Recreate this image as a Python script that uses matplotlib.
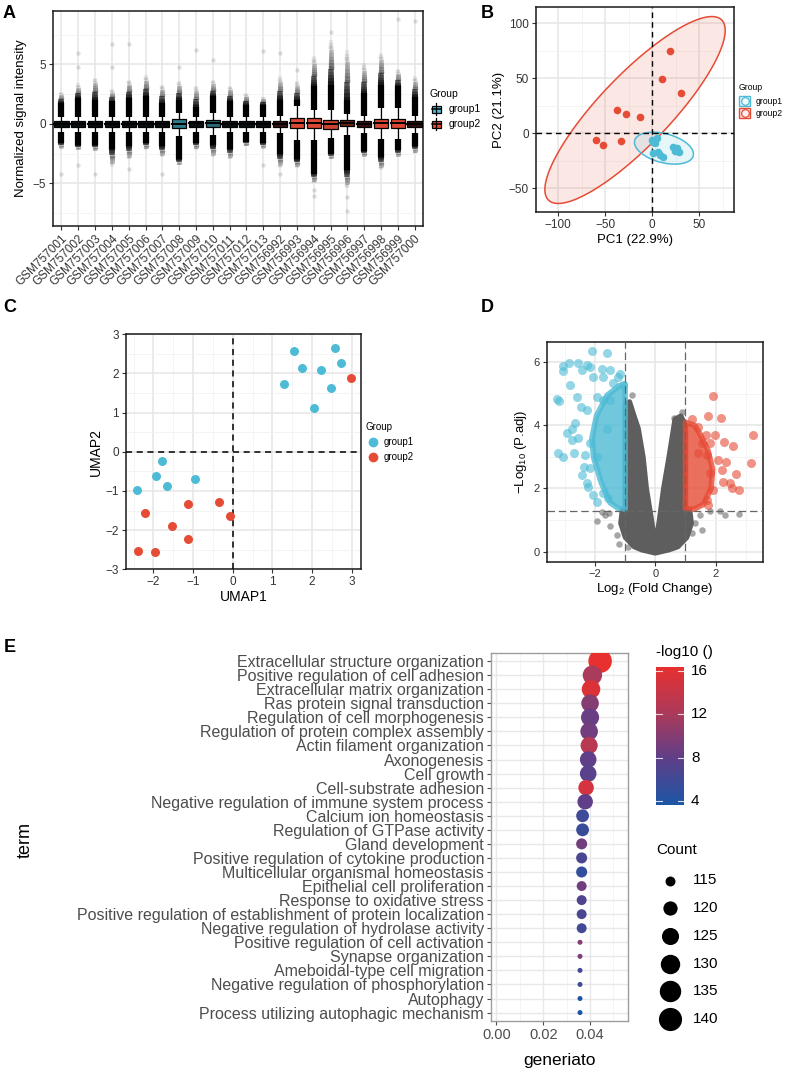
import numpy as np
import matplotlib
matplotlib.use('Agg')
import matplotlib.pyplot as plt
from matplotlib.patches import Rectangle, Polygon
from matplotlib.collections import LineCollection
from matplotlib.colors import LinearSegmentedColormap
from matplotlib.lines import Line2D

plt.rcParams['font.family'] = ['Liberation Sans', 'DejaVu Sans']
plt.rcParams['mathtext.default'] = 'regular'
NARROW = ['Liberation Sans Narrow', 'Liberation Sans', 'DejaVu Sans']

BLUE = '#4DBBD5'
RED = '#E64B35'

# ---------------- data: panel A (boxplots of normalized intensity) ----------------
samples = ['GSM757001', 'GSM757002', 'GSM757003', 'GSM757004', 'GSM757005', 'GSM757006',
           'GSM757007', 'GSM757008', 'GSM757009', 'GSM757010', 'GSM757011', 'GSM757012',
           'GSM757013', 'GSM756992', 'GSM756993', 'GSM756994', 'GSM756995', 'GSM756996',
           'GSM756997', 'GSM756998', 'GSM756999', 'GSM757000']
sample_group = [1] * 13 + [2] * 9
box_q1 = [-0.25, -0.25, -0.25, -0.25, -0.25, -0.25, -0.25, -0.37, -0.25, -0.28, -0.25, -0.25,
          -0.25, -0.28, -0.37, -0.37, -0.42, -0.17, -0.28, -0.37, -0.37, -0.28]
box_q3 = [0.2, 0.2, 0.2, 0.2, 0.2, 0.2, 0.2, 0.39, 0.2, 0.34, 0.2, 0.2,
          0.2, 0.28, 0.48, 0.48, 0.34, 0.34, 0.28, 0.42, 0.42, 0.28]
box_med = [0.0, 0.0, 0.0, 0.0, 0.0, 0.0, 0.0, 0.0, 0.05, 0.05, 0.0, 0.0,
           0.0, 0.0, 0.1, 0.05, -0.05, 0.1, 0.0, 0.05, 0.05, 0.0]
whisk_hi = [0.6, 0.6, 0.6, 0.6, 0.6, 0.6, 0.6, 0.9, 0.6, 0.9, 0.6, 0.6,
            0.6, 0.7, 1.5, 1.2, 1.2, 0.8, 0.7, 1.3, 1.3, 0.7]
whisk_lo = [-0.65, -0.65, -0.65, -0.65, -0.65, -0.65, -0.65, -1.0, -0.65, -0.9, -0.65, -0.65,
            -0.65, -0.8, -1.35, -1.35, -1.2, -0.9, -0.8, -1.3, -1.3, -0.8]
upper_solid = [1.75, 2.17, 2.03, 1.89, 2.17, 2.31, 1.75, 2.03, 1.46, 2.31, 1.89, 1.6,
               1.6, 2.03, 2.0, 3.15, 3.3, 2.0, 2.6, 3.3, 3.15, 2.3]
upper_fade = [2.7, 3.4, 3.9, 2.9, 3.7, 4.1, 3.3, 3.6, 3.2, 3.7, 3.2, 2.6,
              2.3, 4.0, 3.6, 5.7, 7.1, 6.2, 5.1, 6.0, 4.6, 4.0]
lower_solid = [-1.6, -1.8, -1.8, -2.1, -1.9, -1.6, -1.9, -3.0, -1.6, -1.8, -2.1, -1.5,
               -1.6, -2.5, -3.0, -4.2, -2.5, -3.9, -2.3, -2.8, -2.2, -1.9]
lower_fade = [-2.1, -2.2, -2.3, -3.6, -3.0, -2.2, -2.8, -3.5, -2.2, -2.8, -3.0, -1.9,
              -2.1, -3.7, -3.7, -5.0, -3.0, -5.4, -2.8, -3.9, -2.8, -2.5]
outlier_sample = [1, 2, 2, 2, 3, 4, 4, 5, 5, 7, 8, 9, 10, 13, 13, 14, 14, 15, 16, 16, 17, 18, 18, 21, 22]
outlier_value = [-4.2, 6.0, 4.8, -3.5, -4.2, 6.7, 4.8, 6.7, -3.8, -4.2, 4.8, 6.2, 5.4, 6.1, -3.5,
                 6.0, -4.2, 4.5, -6.1, -5.6, 7.7, -7.3, -6.2, 8.8, 8.7]
box_shade = [0.92, 0.92, 0.92, 0.92, 0.92, 0.92, 0.92, 0.35, 0.92, 0.45, 0.92, 0.92,
             0.92, 0.75, 0.05, 0.05, 0.1, 0.55, 0.75, 0.05, 0.05, 0.8]

# ---------------- data: panel B (PCA) ----------------
pca_g1_x = [0.4, 4.6, -0.5, 2.5, 1.1, 6.4, 8.0, 11.7, 22.5, 25.2, 28.7, 26.6, 24.0]
pca_g1_y = [-7.6, -4.6, -6.5, -9.0, -17.6, -16.7, -19.5, -21.2, -12.0, -14.5, -16.7, -13.6, -16.0]
pca_g2_x = [-60.2, -52.8, -33.6, -37.2, -28.0, -13.4, 19.2, 10.6, 30.2]
pca_g2_y = [-5.8, -10.9, -6.7, 21.2, 17.5, 15.1, 74.8, 49.1, 36.4]

# ---------------- data: panel C (UMAP) ----------------
umap_g1_x = [1.54, 2.58, 1.74, 2.22, 2.73, 1.30, 2.47, 2.05, -1.79, -1.94, -1.65, -0.96, -2.42]
umap_g1_y = [2.58, 2.64, 2.15, 2.10, 2.27, 1.73, 1.64, 1.13, -0.23, -0.61, -0.87, -0.70, -0.97]
umap_g2_x = [2.97, -2.20, -1.12, -0.34, -0.08, -1.52, -1.14, -2.38, -1.95]
umap_g2_y = [1.89, -1.55, -1.34, -1.27, -1.65, -1.89, -2.22, -2.53, -2.56]

# ---------------- data: panel D (volcano) ----------------
# dense clouds given by their outlines, sparse points individually
grey_cloud_x = [0.0, -0.45, -0.7, -1.0, -1.15, -1.1, -1.0, -1.0, -0.85, -0.7, -0.56, -0.4, -0.29,
                -0.12, 0.0, 0.13, 0.27, 0.45, 0.6, 0.65, 0.85, 1.0, 1.0, 1.15, 1.2, 1.05, 0.75, 0.45]
grey_cloud_y = [-0.05, 0.05, 0.15, 0.45, 0.9, 1.3, 1.4, 4.7, 4.75, 4.3, 3.9, 3.0, 2.0,
                1.0, 0.2, 1.0, 2.0, 3.0, 3.9, 4.2, 4.3, 4.0, 1.4, 1.3, 0.9, 0.45, 0.15, 0.05]
grey_pts_x = [-0.78, 0.87, 0.62, -1.92, -1.5, -1.28, -1.19, -0.9, -1.68, -1.52, -1.76,
              1.54, 2.15, 2.32, 2.76, 1.32, 1.21, 1.49, 1.82]
grey_pts_y = [4.96, 4.43, 4.22, 0.97, 0.82, 0.54, 0.23, 0.16, 1.16, 1.21, 1.27,
              0.69, 1.29, 1.15, 1.19, 0.92, 0.58, 1.15, 1.29]
blue_cloud_x = [-1.0, -1.2, -1.5, -1.8, -2.05, -2.1, -1.95, -1.6, -1.2, -1.0]
blue_cloud_y = [1.35, 1.35, 1.55, 2.2, 3.0, 3.6, 4.3, 4.95, 5.25, 5.3]
blue_pts_x = [-2.09, -1.6, -2.86, -3.05, -3.05, -2.55, -2.27, -2.16, -2.44, -2.05, -1.77, -1.72,
              -1.5, -2.82, -1.17, -1.06, -3.27, -3.19, -2.6, -2.47, -1.94, -1.72, -2.27, -2.77,
              -2.66, -2.93, -2.77, -2.55, -3.21, -3.05, -2.71, -2.33, -2.38, -2.16, -2.44, -2.27,
              -2.22, -2.05, -1.94, -1.72, -1.56, -2.16, -1.94, -1.61, -1.5, -1.39, -1.23]
blue_pts_y = [6.36, 6.28, 5.99, 5.89, 5.73, 5.96, 5.91, 5.85, 5.75, 5.54, 5.80, 5.54,
              5.75, 5.27, 5.64, 5.27, 4.82, 4.78, 4.91, 4.59, 4.91, 4.80, 4.48, 3.90,
              4.06, 3.75, 3.53, 3.59, 3.13, 3.01, 3.11, 3.06, 2.69, 2.64, 2.43, 2.16,
              2.06, 1.79, 1.58, 1.85, 1.69, 3.43, 3.01, 3.90, 4.80, 5.33, 5.54]
red_cloud_x = [1.0, 1.3, 1.6, 1.85, 1.9, 1.75, 1.5, 1.3, 1.0]
red_cloud_y = [1.35, 1.35, 1.5, 2.0, 2.6, 3.2, 3.7, 4.0, 4.1]
red_pts_x = [1.9, 1.76, 2.18, 1.2, 1.42, 3.25, 3.17, 1.98, 1.68, 2.28, 2.58, 1.81, 1.54,
             1.42, 1.7, 2.09, 2.36, 2.2, 2.67, 2.47, 2.25, 2.53, 2.78, 1.92, 1.7, 1.76, 1.81]
red_pts_y = [4.93, 4.29, 4.22, 4.19, 3.96, 3.69, 2.82, 3.69, 3.69, 3.48, 3.34, 3.43, 3.45,
             3.11, 3.06, 2.90, 2.85, 2.59, 2.46, 2.18, 2.21, 2.00, 1.95, 1.95, 1.64, 1.48, 2.5]

# ---------------- data: panel E (GO dot plot) ----------------
terms = ['Extracellular structure organization', 'Positive regulation of cell adhesion',
         'Extracellular matrix organization', 'Ras protein signal transduction',
         'Regulation of cell morphogenesis', 'Regulation of protein complex assembly',
         'Actin filament organization', 'Axonogenesis', 'Cell growth', 'Cell-substrate adhesion',
         'Negative regulation of immune system process', 'Calcium ion homeostasis',
         'Regulation of GTPase activity', 'Gland development',
         'Positive regulation of cytokine production', 'Multicellular organismal homeostasis',
         'Epithelial cell proliferation', 'Response to oxidative stress',
         'Positive regulation of establishment of protein localization',
         'Negative regulation of hydrolase activity', 'Positive regulation of cell activation',
         'Synapse organization', 'Ameboidal-type cell migration',
         'Negative regulation of phosphorylation', 'Autophagy',
         'Process utilizing autophagic mechanism']
generatio = [0.0443, 0.0410, 0.0404, 0.0400, 0.0400, 0.0396, 0.0396, 0.0392, 0.0392, 0.0383,
             0.0379, 0.0368, 0.0368, 0.0364, 0.0364, 0.0364, 0.0364, 0.0364, 0.0364, 0.0364,
             0.0357, 0.0357, 0.0357, 0.0357, 0.0357, 0.0357]
counts = [141, 130, 128, 126, 127, 126, 125, 124, 124, 122, 122, 118, 118, 116, 116, 116,
          115, 115, 115, 115, 113, 113, 113, 113, 113, 113]
neglog10p = [16.4, 12.0, 15.5, 10.0, 8.5, 9.0, 13.0, 8.0, 7.5, 15.0, 8.0, 6.0, 5.5, 9.0, 6.5,
             5.0, 9.0, 7.0, 6.5, 6.0, 10.0, 9.5, 6.0, 6.0, 3.8, 3.63]
count_breaks = [115, 120, 125, 130, 135, 140]
color_breaks = [4, 8, 12, 16]

# ---------------- figure ----------------
W, H = 786, 1071
fig = plt.figure(figsize=(W / 100, H / 100), dpi=100)


def px_axes(l, t, r, b):
    return fig.add_axes([l / W, 1 - b / H, (r - l) / W, (b - t) / H])


def fx(x):
    return x / W


def fy(y):
    return 1 - y / H


def theme_bw(ax, fs=8.5):
    ax.set_facecolor('white')
    for s in ax.spines.values():
        s.set_color('#1a1a1a')
        s.set_linewidth(1.1)
    ax.grid(True, which='major', color='#E6E6E6', lw=1.1)
    ax.grid(True, which='minor', color='#F2F2F2', lw=0.6)
    ax.set_axisbelow(True)
    ax.tick_params(which='major', length=3, width=0.8, color='#333333',
                   labelsize=fs, labelcolor='#333333', pad=2)
    ax.tick_params(which='minor', length=0)


def panel_letter(x, y, s):
    fig.text(fx(x), fy(y), s, fontsize=13, fontweight='bold', ha='left', va='center')


# ---- A ----
ax = px_axes(53, 11, 423, 226)
theme_bw(ax, fs=8.5)
pos = np.arange(1, len(samples) + 1)
bw = 0.85
for i, xp in enumerate(pos):
    col = BLUE if sample_group[i] == 1 else RED
    # whiskers
    ax.plot([xp, xp], [box_q3[i], whisk_hi[i]], color='black', lw=0.9, zorder=3)
    ax.plot([xp, xp], [box_q1[i], whisk_lo[i]], color='black', lw=0.9, zorder=3)
    # dense point columns with fading tails
    for start, solid, fade in [(whisk_hi[i], upper_solid[i], upper_fade[i]),
                               (whisk_lo[i], lower_solid[i], lower_fade[i])]:
        ax.plot([xp, xp], [start, solid], color='black', lw=4.5, solid_capstyle='butt', zorder=3)
        n = 14
        ed = np.linspace(solid, fade, n + 1)
        segs = [[(xp, ed[k]), (xp, ed[k + 1])] for k in range(n)]
        alphas = np.linspace(0.9, 0.07, n)
        ax.add_collection(LineCollection(segs, colors=[(0, 0, 0, a) for a in alphas],
                                         linewidths=np.linspace(4.4, 3.0, n),
                                         capstyle='butt', zorder=3))
    ax.add_patch(Rectangle((xp - bw / 2, box_q1[i]), bw, box_q3[i] - box_q1[i],
                           facecolor=col, edgecolor='black', lw=0.9, zorder=4))
    ax.add_patch(Rectangle((xp - bw / 2, box_q1[i]), bw, box_q3[i] - box_q1[i],
                           facecolor=(0, 0, 0, box_shade[i]), edgecolor='none', zorder=4))
    ax.plot([xp - bw / 2, xp + bw / 2], [box_med[i], box_med[i]], color='black', lw=1.4, zorder=5)
ax.scatter(outlier_sample, outlier_value, s=10, color='black', alpha=0.12, lw=0, zorder=3)
ax.set_xlim(0.5, len(samples) + 0.5)
ax.set_ylim(-8.6, 9.5)
ax.set_xticks(pos)
ax.set_xticklabels(samples, rotation=45, ha='right', rotation_mode='anchor', fontsize=8.5)
ax.set_yticks([-5, 0, 5])
ax.set_yticks([-7.5, -2.5, 2.5, 7.5], minor=True)
ax.set_ylabel('Normalized signal intensity', fontsize=9.5, labelpad=4)
panel_letter(3, 14, 'A')

# legend A
fig.text(fx(429), fy(94), 'Group', fontsize=7.5, va='center')
for k, (lab, col) in enumerate([('group1', BLUE), ('group2', RED)]):
    yc = 109 + 15 * k
    fig.add_artist(Line2D([fx(436.5), fx(436.5)], [fy(yc - 6), fy(yc + 6)], color='black', lw=0.9))
    fig.add_artist(Rectangle((fx(432), fy(yc + 3.5)), 9 / W, 7 / H, facecolor=col,
                             edgecolor='black', lw=0.9, transform=fig.transFigure))
    fig.add_artist(Line2D([fx(432), fx(441)], [fy(yc), fy(yc)], color='black', lw=1.1))
    fig.text(fx(449), fy(yc), lab, fontsize=7.5, va='center')

# ---- B ----
ax = px_axes(536, 7, 734, 212)
theme_bw(ax, fs=8.5)


def conf_ellipse(x, y, fq):
    pts = np.column_stack([x, y])
    c = pts.mean(axis=0)
    L = np.linalg.cholesky(np.cov(pts.T))
    t = np.linspace(0, 2 * np.pi, 240)
    e = c[:, None] + np.sqrt(2 * fq) * (L @ np.vstack([np.cos(t), np.sin(t)]))
    return e.T


# 95% F quantiles, df (2, n-1)
for xs, ys, col, fq in [(pca_g2_x, pca_g2_y, RED, 4.459), (pca_g1_x, pca_g1_y, BLUE, 3.885)]:
    e = conf_ellipse(xs, ys, fq)
    ax.add_patch(Polygon(e, closed=True, facecolor=col, alpha=0.13, edgecolor='none', zorder=2))
    ax.add_patch(Polygon(e, closed=True, facecolor='none', edgecolor=col, lw=1.1, zorder=3))
ax.axvline(0, color='black', ls=(0, (4, 3)), lw=1.0, zorder=4)
ax.axhline(0, color='black', ls=(0, (4, 3)), lw=1.0, zorder=4)
ax.scatter(pca_g2_x, pca_g2_y, s=30, color=RED, lw=0, zorder=5)
ax.scatter(pca_g1_x, pca_g1_y, s=30, color=BLUE, lw=0, zorder=5)
ax.set_xlim(-123.7, 86.9)
ax.set_ylim(-71.5, 114.8)
ax.set_xticks([-100, -50, 0, 50])
ax.set_xticks([-75, -25, 25, 75], minor=True)
ax.set_yticks([-50, 0, 50, 100])
ax.set_yticks([-25, 25, 75], minor=True)
ax.set_xticklabels(['\u2212100', '\u221250', '0', '50'])
ax.set_yticklabels(['\u221250', '0', '50', '100'])
ax.set_xlabel('PC1 (22.9%)', fontsize=9.5, labelpad=2)
ax.set_ylabel('PC2 (21.1%)', fontsize=9.5, labelpad=3)
panel_letter(481, 14, 'B')

fig.text(fx(739), fy(88), 'Group', fontsize=6.2, va='center')
for k, (lab, col) in enumerate([('group1', BLUE), ('group2', RED)]):
    yc = 101 + 12 * k
    fig.add_artist(Rectangle((fx(739), fy(yc + 5)), 11 / W, 10 / H, facecolor=col, alpha=0.15,
                             edgecolor='none', transform=fig.transFigure))
    fig.add_artist(Rectangle((fx(739), fy(yc + 5)), 11 / W, 10 / H, facecolor='none',
                             edgecolor=col, lw=1.0, transform=fig.transFigure))
    fig.add_artist(Line2D([fx(744.5)], [fy(yc)], marker='o', ms=5.5, mfc=(1, 1, 1, 0.5), mec=col,
                          mew=0.9, transform=fig.transFigure))
    fig.text(fx(756), fy(yc), lab, fontsize=6.2, va='center')

# ---- C ----
ax = px_axes(126, 334.3, 361, 569.3)
theme_bw(ax, fs=8.5)
ax.axvline(0, color='black', ls=(0, (4, 3)), lw=1.1, zorder=3)
ax.axhline(0, color='black', ls=(0, (4, 3)), lw=1.1, zorder=3)
ax.scatter(umap_g1_x, umap_g1_y, s=42, color=BLUE, lw=0, zorder=4)
ax.scatter(umap_g2_x, umap_g2_y, s=42, color=RED, lw=0, zorder=4)
ax.set_xlim(-2.69, 3.23)
ax.set_ylim(-3, 3)
ax.set_xticks([-2, -1, 0, 1, 2, 3])
ax.set_xticklabels(['\u22122', '\u22121', '0', '1', '2', '3'])
ax.set_xticks(np.arange(-2.5, 3.01, 1.0), minor=True)
ax.set_yticks([-3, -2, -1, 0, 1, 2, 3])
ax.set_yticklabels(['\u22123', '\u22122', '\u22121', '0', '1', '2', '3'])
ax.set_yticks(np.arange(-2.5, 3.0, 1.0), minor=True)
ax.set_xlabel('UMAP1', fontsize=10, labelpad=1)
ax.set_ylabel('UMAP2', fontsize=10, labelpad=2)
panel_letter(3, 307, 'C')

fig.text(fx(366), fy(427), 'Group', fontsize=7, va='center')
for k, (lab, col) in enumerate([('group1', BLUE), ('group2', RED)]):
    yc = 442 + 15 * k
    fig.add_artist(Line2D([fx(373)], [fy(yc)], marker='o', ms=7, mfc=col, mec='none',
                          transform=fig.transFigure))
    fig.text(fx(384), fy(yc), lab, fontsize=7, va='center')

# ---- D ----
ax = px_axes(546.7, 341.7, 762.7, 561.7)
theme_bw(ax, fs=8)
ax.set_xticks([-3, -1, 1, 3], minor=True)
ax.set_yticks([1, 3, 5], minor=True)
ax.add_patch(Polygon(np.column_stack([grey_cloud_x, grey_cloud_y]), closed=True,
                     facecolor='#5E5E5E', edgecolor='#5E5E5E', lw=3.5, joinstyle='round', zorder=2))
ax.scatter(grey_pts_x, grey_pts_y, s=22, color='#5E5E5E', alpha=0.55, lw=0, zorder=2)
ax.add_patch(Polygon(np.column_stack([blue_cloud_x, blue_cloud_y]), closed=True,
                     facecolor=BLUE, edgecolor=BLUE, lw=4, joinstyle='round', alpha=0.8, zorder=3))
ax.scatter(blue_pts_x, blue_pts_y, s=42, color=BLUE, alpha=0.6, lw=0, zorder=3)
ax.add_patch(Polygon(np.column_stack([red_cloud_x, red_cloud_y]), closed=True,
                     facecolor=RED, edgecolor=RED, lw=4, joinstyle='round', alpha=0.8, zorder=3))
ax.scatter(red_pts_x, red_pts_y, s=42, color=RED, alpha=0.6, lw=0, zorder=3)
for v in (-1, 1):
    ax.axvline(v, color='#666666', ls=(0, (6, 3)), lw=0.9, zorder=4)
ax.axhline(-np.log10(0.05), color='#666666', ls=(0, (6, 3)), lw=0.9, zorder=4)
ax.set_xlim(-3.6, 3.56)
ax.set_ylim(-0.32, 6.65)
ax.set_xticks([-2, 0, 2])
ax.set_xticklabels(['\u22122', '0', '2'])
ax.set_yticks([0, 2, 4, 6])
ax.set_xlabel('Log$_2$ (Fold Change)', fontsize=9.5, labelpad=2)
ax.set_ylabel('\u2212Log$_{10}$ (P.adj)', fontsize=9.5, labelpad=3)
panel_letter(481, 307, 'D')

# ---- E ----
ax = px_axes(491, 652.7, 627.5, 1021)
ax.set_facecolor('white')
for s in ax.spines.values():
    s.set_color('#9E9E9E')
    s.set_linewidth(1.0)
ax.grid(True, which='major', color='#E8E8E8', lw=1.0)
ax.grid(True, which='minor', color='#F2F2F2', lw=0.6)
ax.set_axisbelow(True)
n_terms = len(terms)
ypos = np.arange(n_terms, 0, -1)
cmap = LinearSegmentedColormap.from_list(
    'go', [(0.0, '#1D56A6'), (0.34, '#603F88'), (0.65, '#AA3B5D'), (1.0, '#E8302F')])
cmin, cmax = min(neglog10p), max(neglog10p)
kmin, kmax = min(counts), max(counts)


def dot_diam(c):
    # ggplot-like area palette (diameter in px)
    return 5 + 18.5 * np.sqrt((np.asarray(c, float) - kmin) / (kmax - kmin))


sizes = (dot_diam(counts) * 0.72) ** 2
ax.scatter(generatio, ypos, s=sizes, c=neglog10p, cmap=cmap, vmin=cmin, vmax=cmax, lw=0, zorder=3)
ax.set_ylim(0.4, n_terms + 0.6)
ax.set_xlim(-0.00235, 0.056)
ax.set_yticks(ypos)
ax.set_yticklabels(terms, family=NARROW, fontsize=11.5, color='#4D4D4D')
ax.set_xticks([0.0, 0.02, 0.04])
ax.set_xticklabels(['0.00', '0.02', '0.04'], family=NARROW, fontsize=10.5, color='#4D4D4D')
ax.set_xticks([0.01, 0.03, 0.05], minor=True)
ax.tick_params(which='major', length=3, width=0.8, color='#4D4D4D', pad=2)
ax.tick_params(which='minor', length=0)
ax.set_xlabel('generiato', family=NARROW, fontsize=12.5, labelpad=8)
fig.text(fx(25), fy(840), 'term', family=NARROW, fontsize=13, rotation=90, ha='center', va='center')
panel_letter(4, 648, 'E')

# colour bar
cax = px_axes(656, 666.7, 684, 805)
grad = np.linspace(cmin, cmax, 256)[:, None]
cax.imshow(grad, aspect='auto', cmap=cmap, origin='lower', extent=[0, 1, cmin, cmax])
cax.set_xlim(0, 1)
cax.set_ylim(cmin, cmax)
cax.set_xticks([])
cax.set_yticks([])
for s in cax.spines.values():
    s.set_visible(False)
for v in color_breaks:
    cax.plot([0, 0.2], [v, v], color='white', lw=0.8, alpha=0.8)
    cax.plot([0.8, 1], [v, v], color='white', lw=0.8, alpha=0.8)
    cax.text(1.25, v, str(v), transform=cax.get_yaxis_transform(), family=NARROW,
             fontsize=11, va='center', ha='left')
fig.text(fx(656), fy(652), '-log10 ()', family=NARROW, fontsize=11, va='center')

# size legend
fig.text(fx(656), fy(850), 'Count', family=NARROW, fontsize=11, va='center')
for k, c in enumerate(count_breaks):
    yc = 880.5 + 27.7 * k
    d = float(dot_diam(c)) * 0.72
    fig.add_artist(Line2D([fx(670)], [fy(yc)], marker='o', ms=d, mfc='black', mec='none',
                          transform=fig.transFigure))
    fig.text(fx(693), fy(yc), str(c), family=NARROW, fontsize=11, va='center')

fig.savefig('out.png', dpi=100)
